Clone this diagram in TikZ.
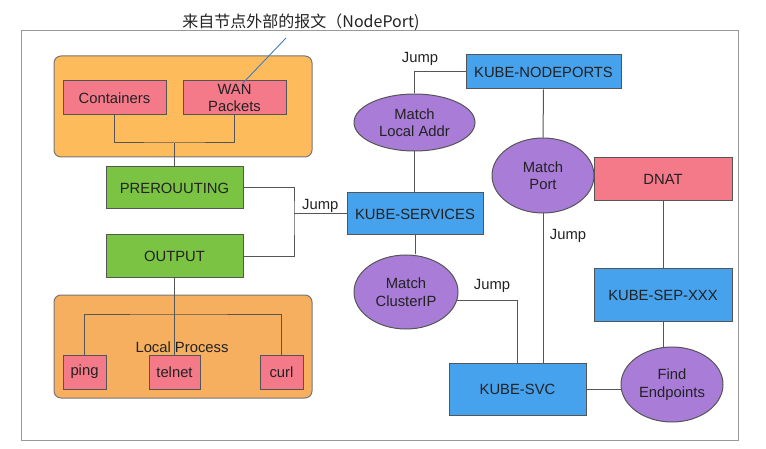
\documentclass[tikz,border=0pt]{standalone}
\usepackage{fontspec}
\setmainfont{Liberation Sans}
\newfontfamily\cjk{Noto Sans CJK SC}
\usetikzlibrary{positioning,shapes.geometric}
\definecolor{grptop}{HTML}{FDBB5C}
\definecolor{grpbot}{HTML}{F6AF5E}
\definecolor{pinkbox}{HTML}{F47A8A}
\definecolor{greenbox}{HTML}{7BC443}
\definecolor{bluebox}{HTML}{46A2EC}
\definecolor{purplebox}{HTML}{A97CD8}
\definecolor{edgegray}{HTML}{555555}
\definecolor{framegray}{HTML}{999999}
\definecolor{txtgray}{HTML}{222222}
\definecolor{notebl}{HTML}{3F7CC4}

\begin{document}
\begin{tikzpicture}[x=1pt, y=-1pt,
    lbl/.style={font=\fontsize{14.8}{17.5}\selectfont, text=txtgray, align=center},
    box/.style={lbl, draw=edgegray, line width=1pt, rectangle, inner sep=0pt},
    pinkbox/.style={box, fill=pinkbox},
    greenbox/.style={box, fill=greenbox},
    chainbox/.style={box, fill=bluebox},
    matchbox/.style={lbl, draw=edgegray, line width=1pt, ellipse, inner sep=0pt, fill=purplebox},
    group/.style={draw=edgegray!80, line width=1pt, rounded corners=7pt},
    link/.style={draw=edgegray, line width=1pt}
]
    \useasboundingbox (0,0) rectangle (766,449);
    % Frame
    \draw[framegray, line width=0.9pt] (21,30) rectangle (738,440);
    \node[font=\cjk\fontsize{16}{18}\selectfont, text=txtgray] (note) at (301,22) {来自节点外部的报文（NodePort)};

    % Packet sources
    \draw[group, fill=grptop] (54,56) rectangle (312,157);
    \node[pinkbox, minimum width=103, minimum height=34] (cont) at (114.5,98) {Containers};
    \node[pinkbox, minimum width=103, minimum height=34] (wan) at (234.5,98) {WAN\\Packets};
    \coordinate (noteend) at (286,38);
    \coordinate (notetip) at (243,83);
    \draw[notebl, line width=0.9pt] (noteend) -- (notetip);

    % Netfilter hooks
    \node[greenbox, minimum width=137, minimum height=42] (pre) at (174.5,188) {PREROUUTING};
    \node[greenbox, minimum width=137, minimum height=43] (out) at (174.5,256.5) {OUTPUT};

    % Local process
    \draw[group, fill=grpbot] (54,295) rectangle (312,398);
    \node[lbl] (local) at (182,347) {Local Process};
    \node[pinkbox, minimum width=43, minimum height=34] (ping) at (84.5,372) {ping};
    \node[pinkbox, minimum width=51, minimum height=34] (telnet) at (174.5,372) {telnet};
    \node[pinkbox, minimum width=43, minimum height=34] (curl) at (281.5,372) {curl};

    % KUBE chains
    \node[chainbox, minimum width=136, minimum height=42] (services) at (415,214) {KUBE-SERVICES};
    \node[chainbox, minimum width=155, minimum height=34] (nodeports) at (543.5,72) {KUBE-NODEPORTS};
    \node[pinkbox, minimum width=138, minimum height=43] (dnat) at (663,179.5) {DNAT};
    \node[chainbox, minimum width=138, minimum height=52] (sep) at (663,295) {KUBE-SEP-XXX};
    \node[chainbox, minimum width=137, minimum height=52] (kubesvc) at (517.5,389) {KUBE-SVC};

    % Matches
    \node[matchbox, minimum width=121, minimum height=57] (localaddr) at (414.5,122.5) {Match\\Local Addr};
    \node[matchbox, minimum width=104, minimum height=74] (clusterip) at (406,292) {Match\\ClusterIP};
    \node[matchbox, minimum width=102, minimum height=75] (port) at (543,175.5) {Match\\Port};
    \node[matchbox, minimum width=102, minimum height=75] (endpoints) at (672,384.5) {Find\\Endpoints};

    % Links
    \coordinate (srcjoin) at (174.5,143);
    \draw[link] (cont.south) |- (srcjoin) -| (wan.south);
    \draw[link] (srcjoin) -- (pre.north);
    \coordinate (hookjoin) at (294,214);
    \draw[link] (pre.east) -| (hookjoin) |- (out.east);
    \draw[link] (hookjoin) -- (services.west) node[midway, above, lbl, inner sep=1pt] {Jump};
    \draw[link] (out.south) -- (telnet.north);
    \coordinate (procjoin) at (174.5,314);
    \draw[link] (ping.north) |- (procjoin) -| (curl.north);

    \draw[link] (localaddr.north) |- (nodeports.west);
    \node[lbl] (jump1) at (420,59) {Jump};
    \draw[link] (localaddr.south) -- (localaddr.south |- services.north);
    \draw[link] (services.south) -- (services.south |- clusterip.north);
    \draw[link] (clusterip.-10) -| (kubesvc.north);
    \node[lbl] (jump2) at (492,286) {Jump};
    \draw[link] (nodeports.south) -- (port.north);
    \draw[link] (port.south) -- (port.south |- kubesvc.north);
    \node[lbl] (jump3) at (568,236) {Jump};
    \draw[link] (dnat.south) -- (sep.north);
    \draw[link] (sep.south) -- (sep.south |- endpoints.north);
    \draw[link] (kubesvc.east) -- (kubesvc.east -| endpoints.west);
\end{tikzpicture}
\end{document}
